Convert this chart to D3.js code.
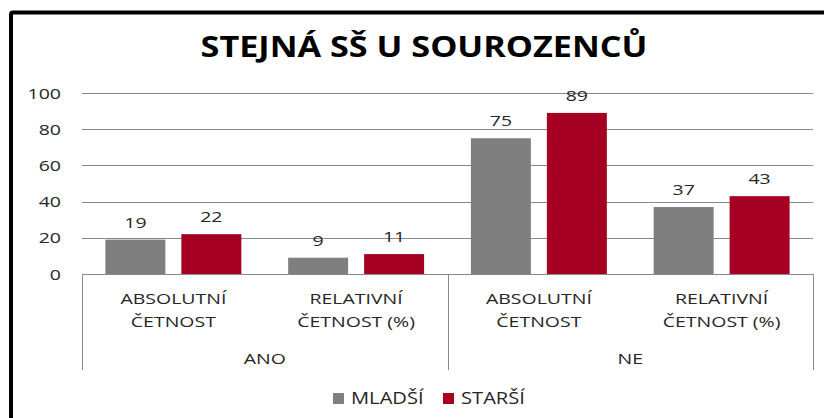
<!DOCTYPE html>
<html lang="cs">
<meta charset="utf-8">
<title>Stejná SŠ u sourozenců</title>
<head>
<style>
  body { margin: 0; background: #fff; }
  text { font-family: "Open Sans", sans-serif; fill: #262626; }
</style>
</head>
<body>
  <script src="https://cdn.jsdelivr.net/npm/d3@7"></script>
  <div id="chart"></div>
  <script>

    // data
    var groups = ["ANO", "NE"];
    var subCats = [["ABSOLUTNÍ", "ČETNOST"], ["RELATIVNÍ", "ČETNOST (%)"]];
    var seriesNames = ["MLADŠÍ", "STARŠÍ"];
    var mladsi = [19, 9, 75, 37];
    var starsi = [22, 11, 89, 43];
    var yTicks = [0, 20, 40, 60, 80, 100];
    var colors = ["#7f7f7f", "#a50021"];

    var W = 824, H = 418;
    var SX = 1.3; // text in the picture is stretched horizontally

    // one entry per category on the x axis
    var cats = [];
    groups.forEach(function (g, gi) {
      subCats.forEach(function (s, si) {
        var i = gi * subCats.length + si;
        cats.push({ id: g + "|" + si, group: g, label: s, values: [mladsi[i], starsi[i]] });
      });
    });

    var svg = d3.select("#chart").append("svg")
      .attr("width", W).attr("height", H);

    // outer frame (only left and top visible in the picture)
    svg.append("rect")
      .attr("x", 11).attr("y", 12.5)
      .attr("width", W + 20).attr("height", H + 20)
      .attr("rx", 2)
      .attr("fill", "none").attr("stroke", "#000").attr("stroke-width", 4);

    function stretched(sel, x, y, sx) {
      return sel.attr("transform", "translate(" + x + "," + y + ") scale(" + (sx || SX) + ",1)");
    }

    // title
    stretched(svg.append("text"), 424, 57, 1.18)
      .attr("text-anchor", "middle")
      .style("font-size", "29px").style("font-weight", "700")
      .style("fill", "#000")
      .text("STEJNÁ SŠ U SOUROZENCŮ");

    var x0 = d3.scaleBand().domain(cats.map(d => d.id)).range([82, 813]);
    var x1 = d3.scaleBand().domain(seriesNames)
      .range([23.4, x0.bandwidth() - 23.4]).paddingInner(16 / 76);
    var y = d3.scaleLinear().domain([0, 100]).range([274, 93]);

    // gridlines
    svg.append("g").selectAll("line").data(yTicks.slice(1)).enter().append("line")
      .attr("x1", 82).attr("x2", 813)
      .attr("y1", d => Math.round(y(d)) + 0.5).attr("y2", d => Math.round(y(d)) + 0.5)
      .attr("stroke", "#898989").attr("stroke-width", 1);

    // y tick labels
    yTicks.forEach(function (t) {
      stretched(svg.append("text"), 61, y(t) + 5.5)
        .attr("text-anchor", "end")
        .style("font-size", "15px")
        .text(t);
    });

    // bars
    var cg = svg.append("g").selectAll("g").data(cats).enter().append("g")
      .attr("transform", d => "translate(" + x0(d.id) + ",0)");

    cg.selectAll("rect").data(d => d.values.map((v, i) => ({ s: seriesNames[i], v: v, i: i })))
      .enter().append("rect")
      .attr("x", d => x1(d.s))
      .attr("y", d => y(d.v))
      .attr("width", x1.bandwidth())
      .attr("height", d => y(0) - y(d.v))
      .attr("fill", d => colors[d.i]);

    // value labels
    cats.forEach(function (c) {
      c.values.forEach(function (v, i) {
        stretched(svg.append("text"), x0(c.id) + x1(seriesNames[i]) + x1.bandwidth() / 2, y(v) - 12)
          .attr("text-anchor", "middle")
          .style("font-size", "15px")
          .text(v);
      });
    });

    // category axis
    var axisColor = "#898989";
    svg.append("line")
      .attr("x1", 82).attr("x2", 813).attr("y1", 274.5).attr("y2", 274.5)
      .attr("stroke", axisColor);
    var seps = [x0(cats[0].id), x0(cats[subCats.length].id), x0.range()[1]];
    svg.append("g").selectAll("line").data(seps).enter().append("line")
      .attr("x1", d => Math.round(d) + 0.5).attr("x2", d => Math.round(d) + 0.5)
      .attr("y1", 274).attr("y2", 370)
      .attr("stroke", axisColor);

    cats.forEach(function (c) {
      var t = stretched(svg.append("text"), x0(c.id) + x0.bandwidth() / 2, 304)
        .attr("text-anchor", "middle")
        .style("font-size", "15px");
      c.label.forEach(function (line, li) {
        t.append("tspan").attr("x", 0).attr("dy", li === 0 ? 0 : 23).text(line);
      });
    });

    groups.forEach(function (g, gi) {
      var a = x0(cats[gi * subCats.length].id);
      var b = x0(cats[gi * subCats.length + subCats.length - 1].id) + x0.bandwidth();
      stretched(svg.append("text"), (a + b) / 2, 364)
        .attr("text-anchor", "middle")
        .style("font-size", "15px")
        .text(g);
    });

    // legend
    var legend = svg.append("g").attr("transform", "translate(333,393)");
    seriesNames.forEach(function (s, i) {
      var item = legend.append("g").attr("transform", "translate(" + (i * 110) + ",0)");
      item.append("rect").attr("width", 11).attr("height", 11).attr("fill", colors[i]);
      stretched(item.append("text"), 18, 11)
        .style("font-size", "15.5px")
        .text(s);
    });

  </script>
</body>
</html>
